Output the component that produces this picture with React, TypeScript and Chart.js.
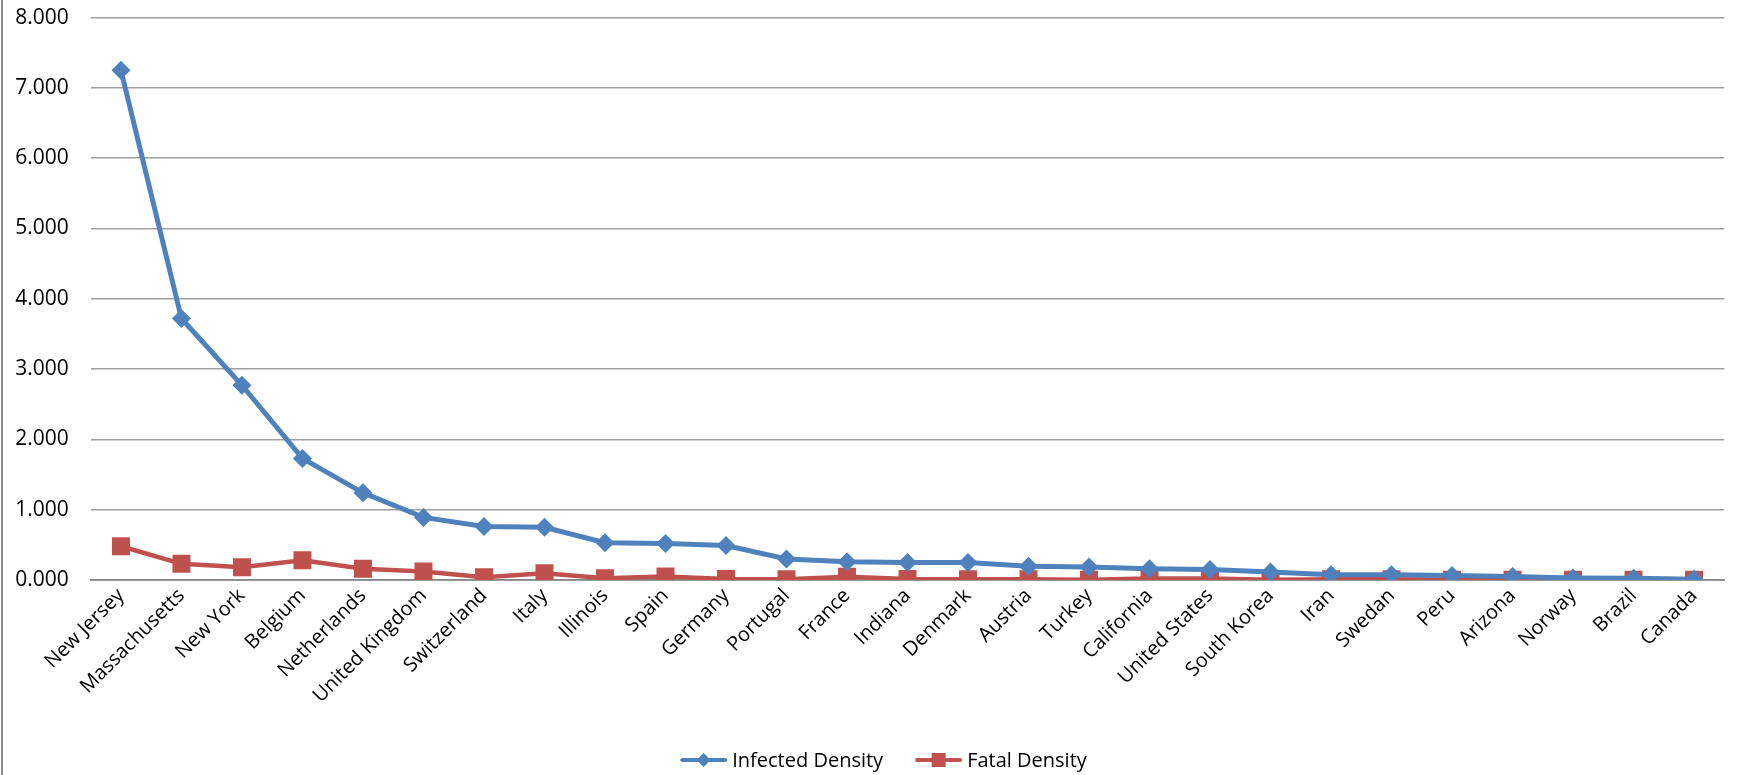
import React, { useEffect, useRef } from "react";
import { Chart, registerables } from "chart.js";

Chart.register(...registerables);

const categories = [
  "New Jersey", "Massachusetts", "New York", "Belgium", "Netherlands", "United Kingdom",
  "Switzerland", "Italy", "Illinois", "Spain", "Germany", "Portugal", "France", "Indiana",
  "Denmark", "Austria", "Turkey", "California", "United States", "South Korea", "Iran",
  "Swedan", "Peru", "Arizona", "Norway", "Brazil", "Canada",
];

const infectedDensity = [
  7.25, 3.72, 2.77, 1.73, 1.24, 0.89, 0.76, 0.75, 0.53, 0.52, 0.49, 0.3, 0.26, 0.25,
  0.25, 0.195, 0.185, 0.16, 0.15, 0.115, 0.075, 0.075, 0.065, 0.05, 0.03, 0.025, 0.01,
];

const fatalDensity = [
  0.48, 0.23, 0.18, 0.28, 0.16, 0.12, 0.04, 0.095, 0.025, 0.05, 0.015, 0.01, 0.045, 0.015,
  0.01, 0.01, 0.005, 0.02, 0.02, 0.005, 0.01, 0.01, 0.005, 0.003, 0.005, 0.005, 0.005,
];

const seriesNames = ["Infected Density", "Fatal Density"];
const yMin = 0;
const yMax = 8;
const yStep = 1;

const BLUE = "#4F81BD";
const RED = "#C0504D";
const FONT = "'Open Sans', 'Noto Sans', sans-serif";

// Excel-style legend (line with marker) drawn below the plot
const excelLegend = {
  id: "excelLegend",
  afterDraw(chart: any) {
    const ctx = chart.ctx;
    const sets = chart.data.datasets;
    const lineLen = 47;
    const gap = 5;
    const spacing = 32;
    const cy = chart.height - 15;
    ctx.save();
    ctx.font = `20px ${FONT}`;
    const widths = sets.map((d: any) => ctx.measureText(d.label).width);
    const total = widths.reduce((s: number, w: number) => s + lineLen + gap + w, 0) + spacing * (sets.length - 1);
    let x = chart.width / 2 + 15 - total / 2;
    sets.forEach((d: any, i: number) => {
      ctx.strokeStyle = d.borderColor;
      ctx.fillStyle = d.borderColor;
      ctx.lineWidth = 4;
      ctx.lineCap = "round";
      ctx.beginPath();
      ctx.moveTo(x + 2, cy);
      ctx.lineTo(x + lineLen - 2, cy);
      ctx.stroke();
      const mx = x + lineLen / 2;
      if (d.pointStyle === "rectRot") {
        ctx.beginPath();
        ctx.moveTo(mx, cy - 7);
        ctx.lineTo(mx + 7, cy);
        ctx.lineTo(mx, cy + 7);
        ctx.lineTo(mx - 7, cy);
        ctx.closePath();
        ctx.fill();
      } else {
        ctx.fillRect(mx - 7, cy - 7, 14, 14);
      }
      ctx.fillStyle = "#000";
      ctx.textAlign = "left";
      ctx.textBaseline = "middle";
      ctx.fillText(d.label, x + lineLen + gap, cy + 1);
      x += lineLen + gap + widths[i] + spacing;
    });
    ctx.restore();
  },
};

export default function App() {
  const ref = useRef<HTMLCanvasElement | null>(null);

  useEffect(() => {
    if (!ref.current) return;
    const chart = new Chart(ref.current, {
      type: "line",
      data: {
        labels: categories,
        datasets: [
          {
            label: seriesNames[0],
            data: infectedDensity,
            borderColor: BLUE,
            backgroundColor: BLUE,
            borderWidth: 5,
            pointStyle: "rectRot",
            pointRadius: 9.5,
            pointBorderWidth: 0,
            tension: 0,
          },
          {
            label: seriesNames[1],
            data: fatalDensity,
            borderColor: RED,
            backgroundColor: RED,
            borderWidth: 4.5,
            pointStyle: "rect",
            pointRadius: 12.7,
            pointBorderWidth: 0,
            tension: 0,
          },
        ],
      },
      options: {
        responsive: false,
        animation: false,
        devicePixelRatio: 1,
        layout: { padding: { left: 15, right: 1, top: 17.6, bottom: 0 } },
        plugins: {
          tooltip: { enabled: false },
          legend: { display: false },
        },
        scales: {
          x: {
            offset: true,
            grid: { display: false, drawTicks: false, offset: true },
            border: { display: true, color: "#868686", width: 1.7 },
            ticks: {
              autoSkip: false,
              minRotation: 45,
              maxRotation: 45,
              padding: 4,
              color: "#000",
              font: { family: FONT, size: 20 },
            },
            afterFit: (s: any) => {
              s.height = 195;
              s.paddingLeft = 0;
              s.paddingRight = 0;
            },
          },
          y: {
            min: yMin,
            max: yMax,
            grid: { color: "#a0a0a0", lineWidth: 1.5, drawTicks: false },
            border: { display: false },
            ticks: {
              stepSize: yStep,
              padding: 22,
              color: "#000",
              font: { family: FONT, size: 21 },
              callback: (v: any) => Number(v).toFixed(3),
            },
            afterFit: (s: any) => {
              s.width = 75.7;
              s.paddingTop = 0;
              s.paddingBottom = 0;
            },
          },
        },
      },
      plugins: [excelLegend],
    });
    return () => chart.destroy();
  }, []);

  return (
    <div style={{ position: "fixed", left: 0, top: 0, width: 1737, height: 775, background: "#fff" }}>
      <div
        style={{
          position: "absolute",
          left: 1,
          top: 0,
          bottom: 0,
          width: 0,
          borderLeft: "2px solid #8e8e8e",
        }}
      />
      <canvas
        ref={ref}
        width={1737}
        height={775}
        style={{ position: "absolute", left: 0, top: 0, width: 1737, height: 775 }}
      />
    </div>
  );
}
